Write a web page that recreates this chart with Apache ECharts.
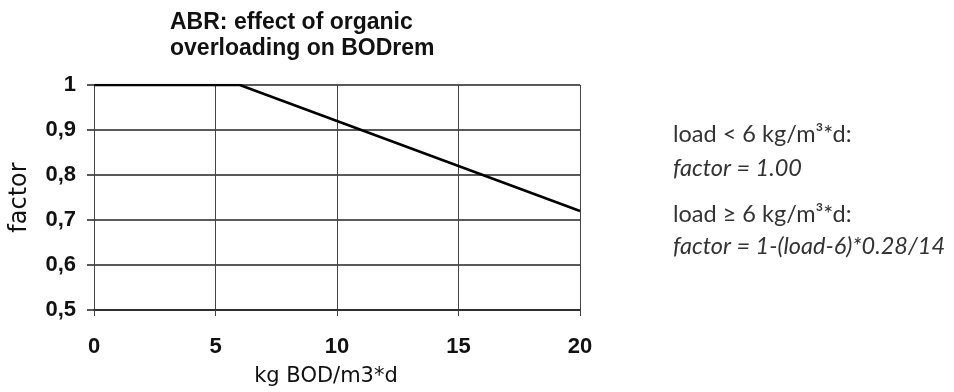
<!DOCTYPE html>
<html>
<head>
<meta charset="utf-8">
<script src="https://cdn.jsdelivr.net/npm/echarts@6/dist/echarts.min.js"></script>
<style>
html, body { margin: 0; padding: 0; background: #fff; }
#chart { width: 954px; height: 392px; }
</style>
</head>
<body>
<div id="chart"></div>
<script>
// ABR organic overloading factor
var loadX = [0, 6, 20];
var factorY = [1, 1, 0.72];
var xTicks = [0, 5, 10, 15, 20];
var yTicks = [0.5, 0.6, 0.7, 0.8, 0.9, 1];
var noteLines = [
    'load < 6 kg/m³*d:',
    'factor = 1.00',
    'load ≥ 6 kg/m³*d:',
    'factor = 1-(load-6)*0.28/14'
];

var chart = echarts.init(document.getElementById('chart'));

function commaLabel(v) {
    if (Math.abs(v - 1) < 1e-9) return '1';
    return v.toFixed(1).replace('.', ',');
}

var seriesData = [];
for (var i = 0; i < loadX.length; i++) {
    seriesData.push([loadX[i], factorY[i]]);
}

var tickFont = { fontFamily: 'Liberation Sans', fontWeight: 'bold', fontSize: 22, color: '#111' };

var option = {
    animation: false,
    backgroundColor: '#fff',
    title: {
        text: 'ABR: effect of organic\noverloading on BODrem',
        left: 170,
        top: 10,
        padding: 0,
        textStyle: {
            fontFamily: 'Liberation Sans',
            fontWeight: 'bold',
            fontSize: 23,
            lineHeight: 26,
            color: '#111'
        }
    },
    grid: {
        left: 89,
        right: 374,
        top: 85,
        bottom: 81
    },
    xAxis: {
        type: 'value',
        min: xTicks[0],
        max: xTicks[xTicks.length - 1],
        interval: 5,
        name: 'kg BOD/m3*d',
        nameLocation: 'middle',
        nameGap: 56,
        nameTextStyle: {
            fontFamily: 'DejaVu Sans', fontSize: 21, color: '#111',
            padding: [0, 22, 0, 0]
        },
        axisLine: { show: true, lineStyle: { color: '#222', width: 1.5 } },
        axisTick: { show: true, length: 6, lineStyle: { color: '#444', width: 1 } },
        axisLabel: Object.assign({ margin: 26, alignMinLabel: 'center', alignMaxLabel: 'center' }, tickFont),
        splitLine: { show: true, lineStyle: { color: '#444', width: 1 } }
    },
    yAxis: {
        type: 'value',
        min: yTicks[0],
        max: yTicks[yTicks.length - 1],
        interval: 0.1,
        name: 'factor',
        nameLocation: 'middle',
        nameGap: 62,
        nameTextStyle: { fontFamily: 'DejaVu Sans', fontSize: 24, color: '#111' },
        axisLine: { show: true, lineStyle: { color: '#444', width: 1 } },
        axisTick: { show: true, length: 7, lineStyle: { color: '#222', width: 1.5 } },
        axisLabel: Object.assign({ margin: 18, formatter: commaLabel }, tickFont),
        splitLine: { show: true, lineStyle: { color: '#222', width: 1.5 } }
    },
    series: [
        {
            name: 'factor',
            type: 'line',
            data: seriesData,
            symbol: 'none',
            lineStyle: { color: '#000', width: 2.5 }
        }
    ],
    graphic: [
        { type: 'text', left: 673, top: 122, style: { text: noteLines[0], font: '23.5px Lato', fill: '#333' } },
        { type: 'text', left: 673, top: 157, style: { text: noteLines[1], font: 'italic 23.5px Lato', fill: '#333' } },
        { type: 'text', left: 673, top: 202, style: { text: noteLines[2], font: '23.5px Lato', fill: '#333' } },
        { type: 'text', left: 673, top: 235, style: { text: noteLines[3], font: 'italic 23.5px Lato', fill: '#333' } }
    ]
};
chart.setOption(option);
</script>
</body>
</html>
